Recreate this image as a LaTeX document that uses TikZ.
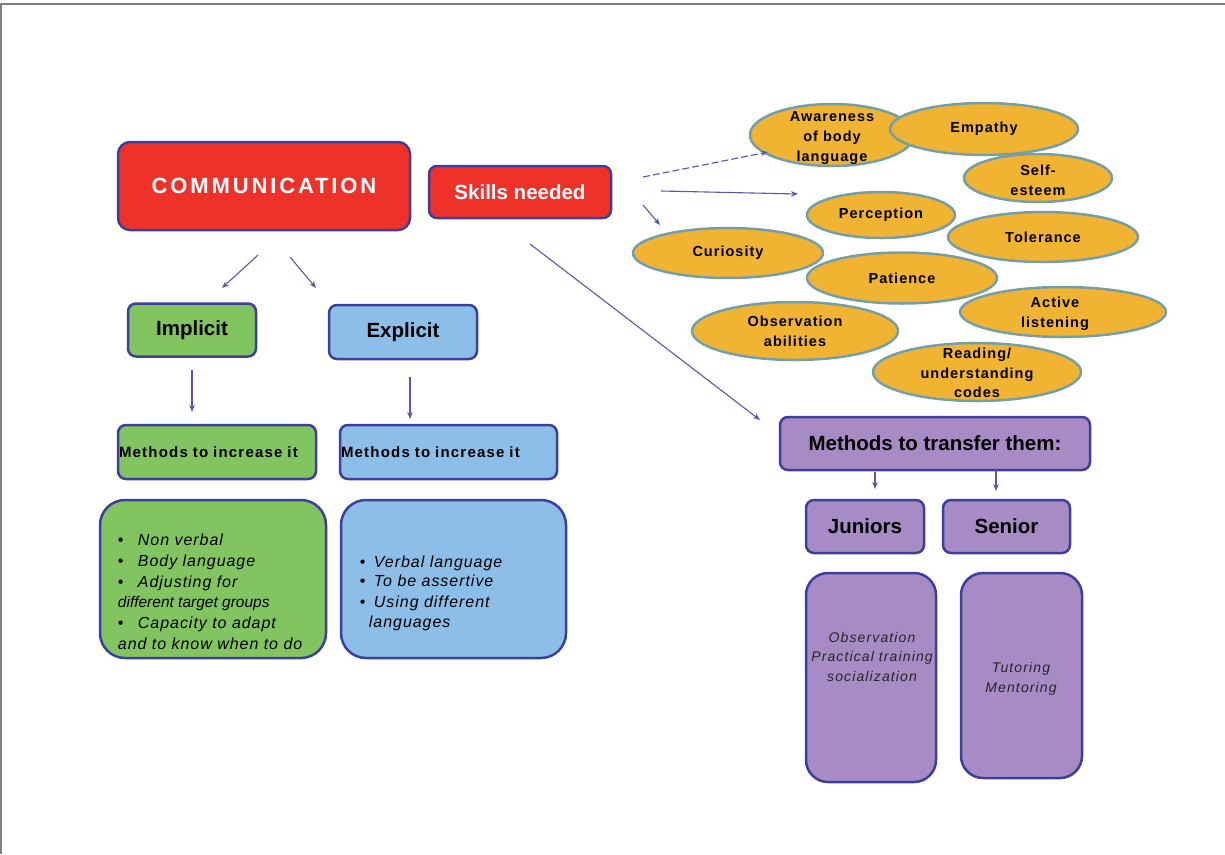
\documentclass[tikz,border=0pt]{standalone}
\usepackage{fontspec}
\setmainfont{Liberation Sans}
\newfontfamily\lsComm[LetterSpace=13]{Liberation Sans}
\newfontfamily\lsOval[LetterSpace=7]{Liberation Sans}
\newfontfamily\lsMeth[LetterSpace=8]{Liberation Sans}
\newfontfamily\lsList[LetterSpace=6]{Liberation Sans}
\newfontfamily\lsSmall[LetterSpace=8]{Liberation Sans}
\usetikzlibrary{shapes.geometric,arrows.meta,calc}
\definecolor{cred}{HTML}{EE3129}
\definecolor{cgreen}{HTML}{82C45F}
\definecolor{cblue}{HTML}{8DBEE8}
\definecolor{cpurple}{HTML}{A68BC4}
\definecolor{cyel}{HTML}{F0B432}
\definecolor{cedge}{HTML}{3D3F9C}
\definecolor{cell}{HTML}{749FA6}
\definecolor{carrow}{HTML}{5558AE}
\definecolor{cframe}{HTML}{808080}
\tikzset{
  box/.style={draw=cedge, line width=2.5pt, rounded corners=8pt, inner sep=0pt, align=center},
  biglabel/.style={font=\bfseries\fontsize{20.5}{24}\selectfont},
  oval/.style={ellipse, draw=cell, fill=cyel, line width=2.5pt, inner sep=0pt},
  ovaltext/.style={align=center, inner sep=0pt, font=\lsOval\bfseries\fontsize{14.5}{19.8}\selectfont},
  arr/.style={draw=carrow, line width=1.1pt, -{Stealth[length=7pt,width=5.5pt]}},
  listtxt/.style={align=left, inner sep=0pt, font=\lsList\itshape\fontsize{16}{20.8}\selectfont},
  subtxt/.style={align=center, inner sep=0pt, font=\lsSmall\itshape\fontsize{14}{19.5}\selectfont, text=black!85},
}
\newcommand{\bul}{\makebox[20pt][l]{\upshape\textbullet}}
\newcommand{\bulb}{\makebox[14pt][l]{\upshape\textbullet}}
\begin{document}
\begin{tikzpicture}[x=1pt,y=-1pt]
\useasboundingbox (0,0) rectangle (1225,854);
\draw[cframe, line width=2pt] (1,854) -- (1,4) -- (1225,4);

% left part
\node[box, fill=cred, rounded corners=12pt, minimum width=292pt, minimum height=88pt,
      text=white, font=\lsComm\bfseries\fontsize{22}{26}\selectfont] (comm) at (264,186) {COMMUNICATION};
\node[box, fill=cred, minimum width=182pt, minimum height=52pt, text=white, biglabel] (skills) at (520,192) {Skills needed};
\node[box, fill=cgreen, minimum width=128pt, minimum height=53pt, biglabel] (impl) at (192,330) {Implicit};
\node[box, fill=cblue, minimum width=148pt, minimum height=54pt, biglabel] (expl) at (403,332) {Explicit};
\node[box, fill=cgreen, minimum width=198pt, minimum height=54pt, text width=196pt, align=left,
      font=\lsMeth\bfseries\fontsize{15}{17}\selectfont] (gmeth) at (217,452) {\raisebox{-2pt}{Methods to increase it}};
\node[box, fill=cblue, minimum width=217pt, minimum height=54pt, text width=215pt, align=left,
      font=\lsMeth\bfseries\fontsize{15}{17}\selectfont] (bmeth) at (448.5,452) {\raisebox{-2pt}{Methods to increase it}};
\node[box, fill=cgreen, rounded corners=25pt, minimum width=226pt, minimum height=158pt] (glist) at (213,579) {};
\node[box, fill=cblue, rounded corners=25pt, minimum width=225pt, minimum height=158pt] (blist) at (453.5,579) {};

\node[listtxt, anchor=north west] (gtxt) at ($(glist.north west)+(19,35)$) {%
\bul Non verbal\\
\bul Body language\\
\bul Adjusting for\\
{\normalfont\itshape\fontsize{15.5}{20.8}\selectfont different target groups}\\
\bul Capacity to adapt\\
and to know when to do};
\node[listtxt, anchor=north west] (btxt) at ($(blist.north west)+(20,57)$) {%
\bulb Verbal language\\[-2pt]
\bulb To be assertive\\
\bulb Using different\\
\hspace*{9pt}languages};

% right part
\node[box, fill=cpurple, minimum width=310pt, minimum height=53pt, biglabel] (transfer) at (935,443.5) {Methods to transfer them:};
\node[box, fill=cpurple, minimum width=118pt, minimum height=53pt, biglabel] (jun) at (865,526.5) {Juniors};
\node[box, fill=cpurple, minimum width=127pt, minimum height=53pt, biglabel] (sen) at (1006.5,526.5) {Senior};
\node[box, fill=cpurple, rounded corners=22pt, minimum width=130pt, minimum height=209pt] (jlist) at (871,677.5) {};
\node[box, fill=cpurple, rounded corners=22pt, minimum width=121pt, minimum height=205pt] (slist) at (1021.5,675.5) {};
\node[subtxt] (jtxt) at (872,656.5) {Observation\\Practical training\\socialization};
\node[subtxt] (stxt) at (1021,679) {Tutoring\\Mentoring};

% ellipses
\node[oval, minimum width=164pt, minimum height=62pt,
      label={[ovaltext,yshift=-3pt]center:Awareness\\of body\\language}] (aware) at (832,135) {};
\node[oval, minimum width=188pt, minimum height=52pt,
      label={[ovaltext]center:Empathy}] (empathy) at (984,129) {};
\node[oval, minimum width=148pt, minimum height=48pt,
      label={[ovaltext,yshift=-2pt]center:Self-\\esteem}] (self) at (1038,178) {};
\node[oval, minimum width=148pt, minimum height=46pt,
      label={[ovaltext]center:Perception}] (perc) at (881,215) {};
\node[oval, minimum width=190pt, minimum height=50pt,
      label={[ovaltext]center:Tolerance}] (toler) at (1043,237) {};
\node[oval, minimum width=190pt, minimum height=50pt,
      label={[ovaltext]center:Curiosity}] (curio) at (728,253) {};
\node[oval, minimum width=190pt, minimum height=51pt,
      label={[ovaltext]center:Patience}] (pat) at (902,278) {};
\begin{scope}
\clip (0,0) rectangle (1167,854);
\node[oval, minimum width=206pt, minimum height=50pt,
      label={[ovaltext,xshift=-8pt,yshift=-2pt]center:Active\\listening}] (active) at (1063,312) {};
\end{scope}
\node[oval, minimum width=206pt, minimum height=58pt,
      label={[ovaltext]center:Observation\\abilities}] (obs) at (795,331) {};
\node[oval, minimum width=208pt, minimum height=58pt,
      label={[ovaltext,yshift=-1pt]center:Reading/\\understanding\\codes}] (read) at (977,372) {};

% connector end points
\coordinate (c1s) at (258,255); \coordinate (c1e) at (222,288);
\coordinate (c2s) at (290,257); \coordinate (c2e) at (316,288);
\coordinate (c3s) at (192,370); \coordinate (c3e) at (192,412);
\coordinate (c4s) at (410,377); \coordinate (c4e) at (410,419);
\coordinate (k1s) at (643,177); \coordinate (k1e) at (768,152);
\coordinate (k2s) at (661,191); \coordinate (k2e) at (798,194);
\coordinate (k3s) at (643,205); \coordinate (k3e) at (660,225);
\coordinate (k4s) at (530,244); \coordinate (k4e) at (760,420);
\coordinate (t1s) at (875,472); \coordinate (t1e) at (875,489);
\coordinate (t2s) at (996,470); \coordinate (t2e) at (996,491);

\draw[arr] (c1s) -- (c1e);
\draw[arr] (c2s) -- (c2e);
\draw[arr] (c3s) -- (c3e);
\draw[arr] (c4s) -- (c4e);
\draw[arr, dash pattern=on 7pt off 3pt] (k1s) -- (k1e);
\draw[arr] (k2s) -- (k2e);
\draw[arr] (k3s) -- (k3e);
\draw[arr] (k4s) -- (k4e);
\draw[arr] (t1s) -- (t1e);
\draw[arr] (t2s) -- (t2e);
\end{tikzpicture}
\end{document}
